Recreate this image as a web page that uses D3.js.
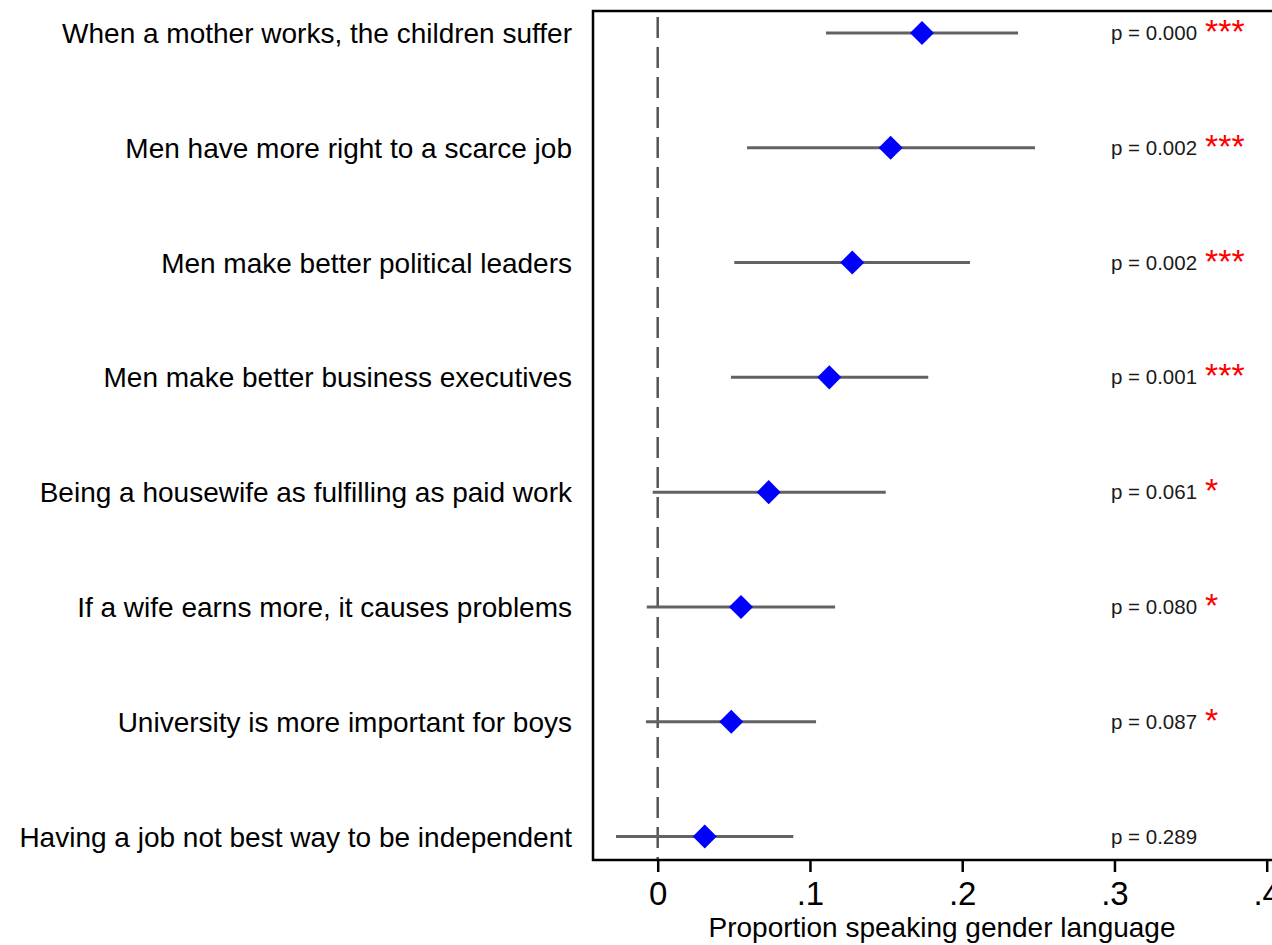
<!DOCTYPE html>
<html>
<head>
<meta charset="utf-8">
<script src="https://cdn.jsdelivr.net/npm/d3@7"></script>
<style>
  html, body { margin: 0; padding: 0; background: #fff; overflow: hidden; }
  svg { display: block; font-family: Arial, "Liberation Sans", sans-serif; }
</style>
</head>
<body>
<svg id="chart" width="1272" height="945"></svg>
<script>
const labels = [
  "When a mother works, the children suffer",
  "Men have more right to a scarce job",
  "Men make better political leaders",
  "Men make better business executives",
  "Being a housewife as fulfilling as paid work",
  "If a wife earns more, it causes problems",
  "University is more important for boys",
  "Having a job not best way to be independent"
];
const estimates = [0.1736, 0.1530, 0.1278, 0.1127, 0.0729, 0.0547, 0.0483, 0.0309];
const lowerCI   = [0.1105, 0.0587, 0.0503, 0.0481, -0.0033, -0.0072, -0.0077, -0.0274];
const upperCI   = [0.2367, 0.2478, 0.2051, 0.1777, 0.1498, 0.1165, 0.1040, 0.0891];
const pValues   = ["0.000", "0.002", "0.002", "0.001", "0.061", "0.080", "0.087", "0.289"];
const stars     = ["***", "***", "***", "***", "*", "*", "*", ""];
const xTicks    = [0, 0.1, 0.2, 0.3, 0.4];
const xTitle    = "Proportion speaking gender language";

const rows = labels.map((l, i) => ({
  label: l, est: estimates[i], lo: lowerCI[i], hi: upperCI[i], p: pValues[i], s: stars[i]
}));

const svg = d3.select("#chart");
const plot = { left: 593, top: 11, bottom: 860 };

const x = d3.scaleLinear().domain([-0.0425, 0.425]).range([plot.left, plot.left + 0.4675 * 1522.5]);
const y = d3.scalePoint().domain(labels).range([33, 836.5]);

// reference line at zero
svg.append("line")
  .attr("x1", x(0)).attr("x2", x(0))
  .attr("y1", plot.top + 6).attr("y2", plot.bottom)
  .attr("stroke", "#555").attr("stroke-width", 2.5)
  .attr("stroke-dasharray", "21,9");

// CI lines
svg.append("g").selectAll("line").data(rows).join("line")
  .attr("x1", d => x(d.lo)).attr("x2", d => x(d.hi))
  .attr("y1", d => y(d.label)).attr("y2", d => y(d.label))
  .attr("stroke", "#626262").attr("stroke-width", 3);

// diamonds
const diamond = d3.symbol().type(d3.symbolSquare).size(289);
svg.append("g").selectAll("path").data(rows).join("path")
  .attr("d", diamond)
  .attr("transform", d => `translate(${x(d.est)},${y(d.label)}) rotate(45)`)
  .attr("fill", "#0000ff");

// frame
svg.append("rect")
  .attr("x", plot.left).attr("y", plot.top)
  .attr("width", x.range()[1] - plot.left + 10).attr("height", plot.bottom - plot.top)
  .attr("fill", "none").attr("stroke", "#000").attr("stroke-width", 2.5);

// x axis
const xAxis = d3.axisBottom(x)
  .tickValues(xTicks)
  .tickSize(12).tickSizeOuter(0).tickPadding(6)
  .tickFormat(d => d === 0 ? "0" : d3.format(".1f")(d).replace(/^0/, ""));
const gx = svg.append("g").attr("transform", `translate(0,${plot.bottom})`).call(xAxis);
gx.select(".domain").remove();
gx.selectAll(".tick line").attr("stroke", "#000").attr("stroke-width", 2.5);
gx.selectAll(".tick text")
  .attr("font-size", 33).attr("fill", "#000")
  .attr("font-family", "Arial, 'Liberation Sans', sans-serif")
  .attr("dy", null).attr("y", 45);

// x title
svg.append("text")
  .attr("x", 942).attr("y", 937)
  .attr("text-anchor", "middle")
  .attr("font-size", 28).attr("fill", "#000")
  .text(xTitle);

// y labels
svg.append("g").selectAll("text").data(rows).join("text")
  .attr("x", 572).attr("y", d => y(d.label) + 10)
  .attr("text-anchor", "end")
  .attr("font-size", 28).attr("fill", "#000")
  .text(d => d.label);

// p-values
svg.append("g").selectAll("text").data(rows).join("text")
  .attr("x", 1111).attr("y", d => y(d.label) + 7)
  .attr("font-size", 20.5).attr("fill", "#1a1a1a")
  .text(d => "p = " + d.p);

// stars
svg.append("g").selectAll("text").data(rows.filter(d => d.s)).join("text")
  .attr("x", 1205).attr("y", d => y(d.label) + 10)
  .attr("font-size", 34).attr("fill", "#ff0000")
  .text(d => d.s);
</script>
</body>
</html>
